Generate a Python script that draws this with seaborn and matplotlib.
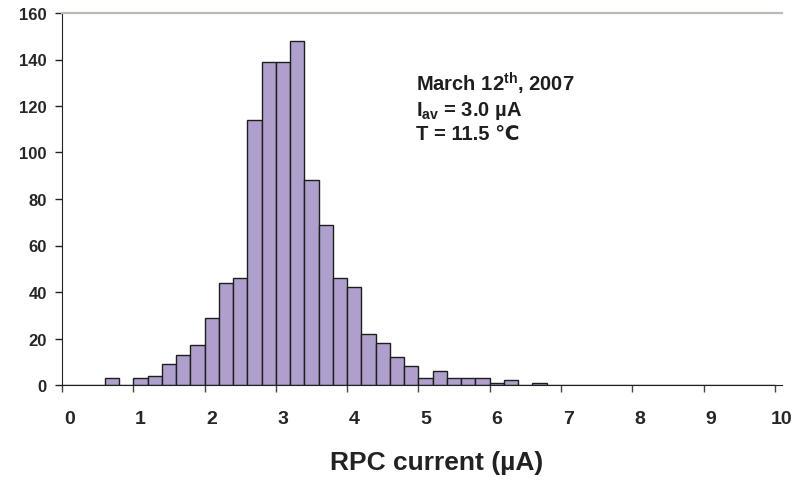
import numpy as np
import matplotlib.pyplot as plt
import seaborn as sns

# histogram data: 0.2 uA bins starting at 0
bin_width = 0.2
bin_start = np.round(np.arange(0, 6.8, bin_width), 1)
counts = [0, 0, 0, 3, 0, 3, 4, 9, 13, 17,
          29, 44, 46, 114, 139, 139, 148, 88, 69, 46,
          42, 22, 18, 12, 8, 3, 6, 3, 3, 3,
          1, 2, 0, 1]
xtick_vals = list(range(0, 11))
xtick_labels = [str(v) for v in xtick_vals]
ytick_vals = list(range(0, 161, 20))

sns.set_style("ticks")
plt.rcParams['font.family'] = ['Liberation Sans', 'DejaVu Sans']
plt.rcParams['mathtext.fontset'] = 'custom'
plt.rcParams['mathtext.rm'] = 'Liberation Sans'
plt.rcParams['mathtext.bf'] = 'Liberation Sans:bold'

fig = plt.figure(figsize=(8.04, 4.81), dpi=100)
ax = fig.add_axes([62/804, 1 - 386/481, 720/804, 372/481])

sns.histplot(x=bin_start + bin_width / 2, weights=counts, binwidth=bin_width,
             binrange=(0, 10), color="#AE9FCD", edgecolor="#1e1e1e",
             linewidth=1.0, alpha=1, ax=ax)

ax.set_xlim(0, 10)
ax.set_ylim(0, 160)

# major ticks at integers, labels centred on the first bin of each unit
ax.set_xticks(xtick_vals)
ax.set_xticklabels([])
ax.set_xticks([v + bin_width / 2 for v in xtick_vals], minor=True)
ax.set_xticklabels(xtick_labels, minor=True, fontsize=14, fontweight='bold')
ax.tick_params(axis='x', which='major', direction='out', length=5, width=1, color='#444444')
ax.tick_params(axis='x', which='minor', length=0, pad=18)

ax.set_yticks(ytick_vals)
ax.set_yticklabels([str(v) for v in ytick_vals], fontsize=12, fontweight='bold')
ax.tick_params(axis='y', direction='out', length=5, width=1, pad=6, color='#222222')

ax.spines['right'].set_visible(False)
ax.spines['top'].set_color('#bdb8b4')
ax.spines['top'].set_linewidth(1.6)
ax.spines['left'].set_color('#222222')
ax.spines['bottom'].set_color('#222222')

ax.set_ylabel('')
ax.set_xlabel('RPC current (µA)', fontsize=19, fontweight='bold', color='#222222')
ax.xaxis.set_label_coords(0.52, -0.175)

txt = dict(fontsize=14.5, fontweight='bold', color='#1e1e1e', va='baseline', ha='left')
ax.text(4.97, 126.5, r'March 12$^{\mathbf{th}}$, 2007', **txt)
ax.text(4.97, 116.2, r'I$_{\mathbf{av}}$ = 3.0 µA', **txt)
ax.text(4.97, 106.0, 'T = 11.5 ℃', **txt)

fig.savefig('out.png', dpi=100)
